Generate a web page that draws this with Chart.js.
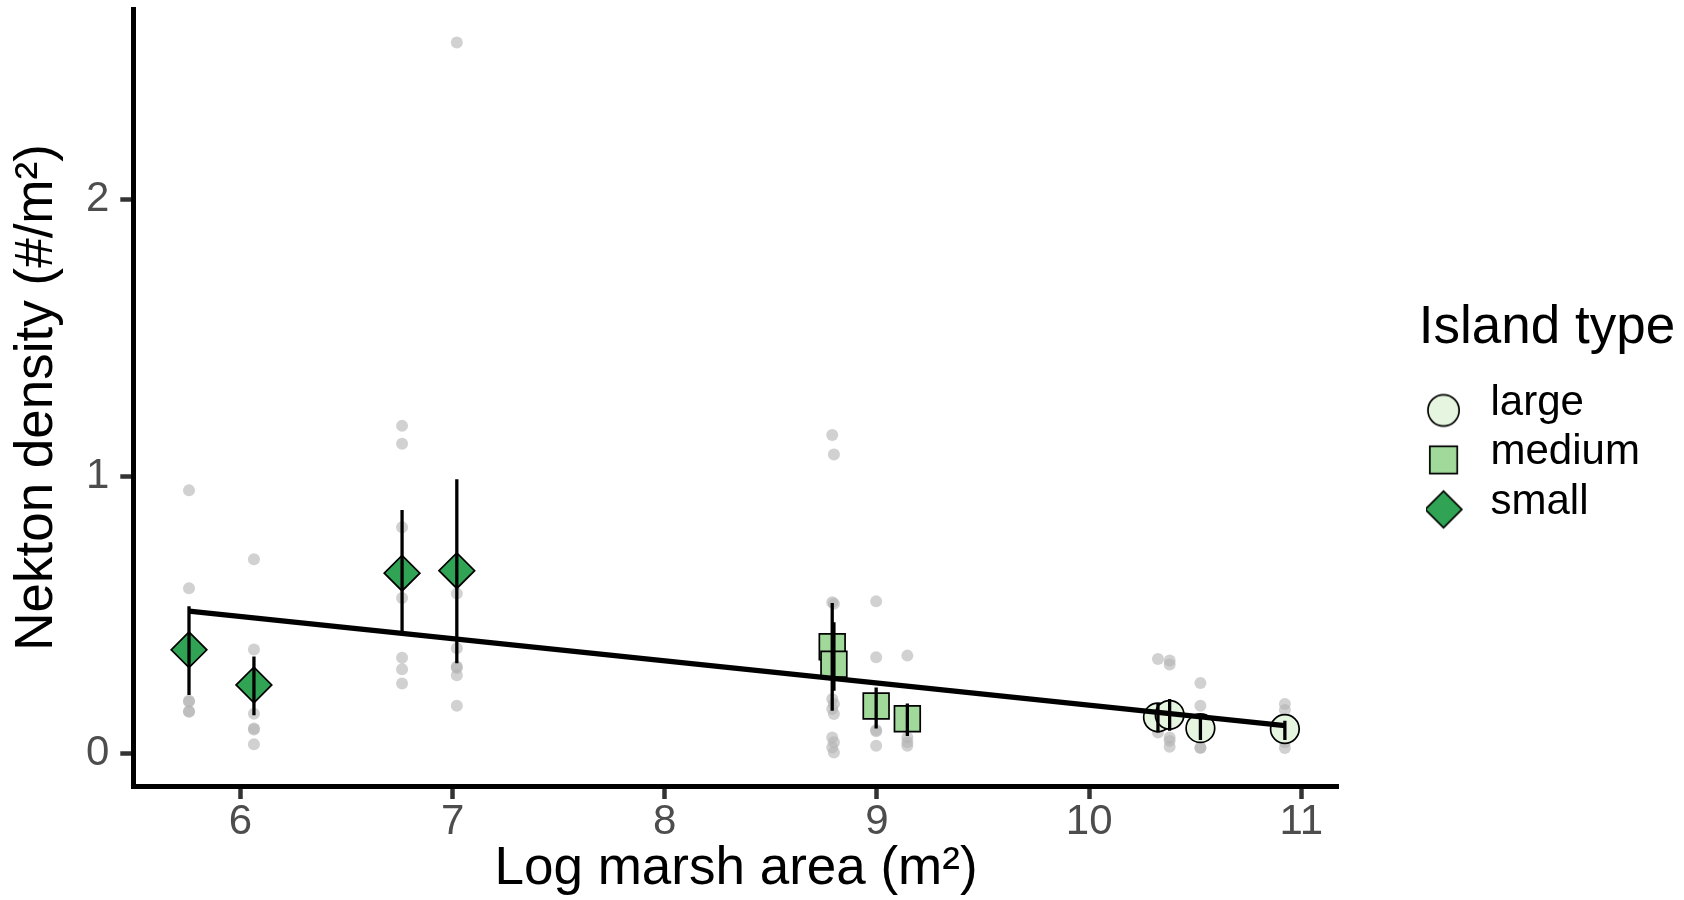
<!DOCTYPE html>
<html>
<head>
<meta charset="utf-8">
<title>Nekton density vs marsh area</title>
<script src="https://cdn.jsdelivr.net/npm/chart.js@4.4.1/dist/chart.umd.min.js"></script>
<style>
  html, body { margin: 0; padding: 0; background: #ffffff; }
  #wrap { width: 1684px; height: 900px; }
</style>
</head>
<body>
<div id="wrap"><canvas id="chart" width="1684" height="900"></canvas></div>
<script>
// One entry per island: type, log marsh area, mean density and its error bar
const islandType  = ['small', 'small', 'small', 'small', 'medium', 'medium', 'medium', 'medium', 'large', 'large', 'large', 'large'];
const logArea     = [5.758, 6.064, 6.762, 7.020, 8.789, 8.797, 8.996, 9.143, 10.324, 10.379, 10.524, 10.922];
const meanDensity = [0.374, 0.247, 0.651, 0.660, 0.385, 0.322, 0.171, 0.125, 0.130, 0.139, 0.091, 0.088];
const errLower    = [0.211, 0.138, 0.435, 0.325, 0.154, 0.226, 0.090, 0.063, 0.075, 0.082, 0.048, 0.048];
const errUpper    = [0.531, 0.350, 0.879, 0.990, 0.543, 0.474, 0.238, 0.180, 0.178, 0.196, 0.132, 0.118];

// Individual samples per island (same order as above)
const samples = [
  [0.950, 0.596, 0.190, 0.186, 0.152, 0.150],
  [0.701, 0.375, 0.143, 0.090, 0.086, 0.033],
  [1.183, 1.118, 0.817, 0.561, 0.345, 0.304, 0.252],
  [2.568, 0.577, 0.380, 0.314, 0.308, 0.282, 0.172],
  [1.150, 0.546, 0.196, 0.160, 0.057, 0.021],
  [1.080, 0.540, 0.178, 0.142, 0.040, 0.003],
  [0.549, 0.347, 0.084, 0.080, 0.027],
  [0.353, 0.057, 0.040, 0.027],
  [0.341, 0.120, 0.075],
  [0.335, 0.321, 0.057, 0.045, 0.024],
  [0.254, 0.172, 0.021, 0.019],
  [0.178, 0.157, 0.040, 0.019]
];

// Fitted regression line end points
const fitX = [5.758, 10.922];
const fitY = [0.514, 0.100];

// Axis ticks and legend order
const xTicks = [6, 7, 8, 9, 10, 11];
const yTicks = [0, 1, 2];
const typeOrder = ['large', 'medium', 'small'];

// ---- styling ----
const FONT = "'Liberation Sans', Arial, Helvetica, sans-serif";
const typeColor = { large: '#E5F5E0', medium: '#A1D99B', small: '#31A354' };
const markerStyle = {
  large:  { pointStyle: 'circle',  radius: 14.3 },
  medium: { pointStyle: 'rect',    radius: 18.2 },
  small:  { pointStyle: 'rectRot', radius: 17.8 }
};

Chart.defaults.font.family = FONT;

// raw samples as x/y points
const samplePoints = [];
samples.forEach((vals, i) => vals.forEach(v => samplePoints.push({ x: logArea[i], y: v })));

// vertical error bars, separated by gaps
const errorSegments = [];
logArea.forEach((x, i) => {
  errorSegments.push({ x: x, y: errLower[i] }, { x: x, y: errUpper[i] }, { x: x, y: null });
});

const fitPoints = fitX.map((x, i) => ({ x: x, y: fitY[i] }));

const meanSets = typeOrder.map(t => {
  const pts = [];
  islandType.forEach((type, i) => { if (type === t) pts.push({ x: logArea[i], y: meanDensity[i] }); });
  return {
    type: 'scatter',
    label: t,
    data: pts,
    pointStyle: markerStyle[t].pointStyle,
    pointRadius: markerStyle[t].radius,
    pointHoverRadius: markerStyle[t].radius,
    backgroundColor: typeColor[t],
    pointBackgroundColor: typeColor[t],
    borderColor: '#000000',
    pointBorderColor: '#000000',
    pointBorderWidth: 1.7,
    order: 2
  };
});

// legend symbols: small canvases; the symbol sits a little left of and below the box centre
function legendSymbol(t) {
  const c = document.createElement('canvas');
  c.width = 44; c.height = 58;
  const g = c.getContext('2d');
  const cx = 22 - 4.4, cy = 29 + 7;
  g.fillStyle = typeColor[t];
  g.strokeStyle = '#000000';
  g.lineWidth = 1.7;
  g.beginPath();
  if (t === 'large') {
    g.arc(cx, cy, 15.6, 0, Math.PI * 2);
  } else if (t === 'medium') {
    g.rect(cx - 13.7, cy - 13.7, 27.4, 27.4);
  } else {
    g.moveTo(cx - 18.3, cy); g.lineTo(cx, cy - 18.3); g.lineTo(cx + 18.3, cy); g.lineTo(cx, cy + 18.3);
    g.closePath();
  }
  g.fill();
  g.stroke();
  return c;
}
const legendSymbols = {};
typeOrder.forEach(t => { legendSymbols[t] = legendSymbol(t); });

// axes sit exactly on the plot panel; no extra room for overhanging tick labels
function noOverhang(s) {
  s.paddingTop = 0; s.paddingBottom = 0; s.paddingLeft = 0; s.paddingRight = 0;
}

// let the legend box reach the canvas edge so the wide title is not clipped
const legendRoom = {
  id: 'legendRoom',
  afterLayout(chart) {
    const l = chart.legend;
    if (l) { l.right = chart.width; l.width = l.right - l.left; }
  }
};

new Chart(document.getElementById('chart'), {
  type: 'scatter',
  plugins: [legendRoom],
  data: {
    datasets: [
      {
        type: 'line',
        label: 'error bars',
        data: errorSegments,
        borderColor: '#000000',
        borderWidth: 3.3,
        borderCapStyle: 'butt',
        pointRadius: 0,
        pointHoverRadius: 0,
        spanGaps: false,
        fill: false,
        order: 0
      },
      {
        type: 'line',
        label: 'fit',
        data: fitPoints,
        borderColor: '#000000',
        borderWidth: 5.3,
        borderCapStyle: 'butt',
        pointRadius: 0,
        pointHoverRadius: 0,
        fill: false,
        order: 1
      },
      ...meanSets,
      {
        type: 'scatter',
        label: 'samples',
        data: samplePoints,
        pointRadius: 6,
        pointHoverRadius: 6,
        backgroundColor: 'rgba(178,178,178,0.6)',
        pointBackgroundColor: 'rgba(178,178,178,0.6)',
        pointBorderWidth: 0,
        borderWidth: 0,
        order: 5
      }
    ]
  },
  options: {
    responsive: false,
    animation: false,
    events: [],
    devicePixelRatio: 1,
    layout: { autoPadding: false, padding: { top: 9, right: 34.1, bottom: 0, left: 0 } },
    plugins: {
      tooltip: { enabled: false },
      legend: {
        display: true,
        position: 'right',
        align: 'start',
        title: {
          display: true,
          text: 'Island type',
          color: '#000000',
          position: 'start',
          font: { family: FONT, size: 53, lineHeight: 1.2 },
          padding: { top: 292.5, bottom: 9.8 }
        },
        labels: {
          usePointStyle: true,
          pointStyleWidth: 43.25,
          padding: 7.5,
          color: '#000000',
          font: { family: FONT, size: 42 },
          generateLabels: () => typeOrder.map((t, k) => ({
            text: t,
            pointStyle: legendSymbols[t],
            fillStyle: typeColor[t],
            strokeStyle: '#000000',
            lineWidth: 0,
            hidden: false,
            datasetIndex: 2 + k
          }))
        }
      }
    },
    scales: {
      x: {
        type: 'linear',
        position: 'bottom',
        min: 5.4955,
        max: 11.176,
        afterBuildTicks: s => { s.ticks = xTicks.map(v => ({ value: v })); },
        afterFit: s => { s.height = 114; noOverhang(s); },
        grid: { display: true, drawOnChartArea: false, drawTicks: true, tickLength: 13, tickWidth: 4.5, tickColor: '#333333' },
        border: { display: true, color: '#000000', width: 5 },
        ticks: {
          color: '#4D4D4D',
          padding: 2.5,
          maxRotation: 0,
          autoSkip: false,
          font: { family: FONT, size: 42, lineHeight: 1 },
          callback: v => String(v)
        },
        title: {
          display: true,
          text: 'Log marsh area (m²)',
          color: '#000000',
          font: { family: FONT, size: 53, lineHeight: 1 },
          padding: { top: 0, bottom: 4 }
        }
      },
      y: {
        type: 'linear',
        position: 'left',
        min: -0.118,
        max: 2.689,
        afterBuildTicks: s => { s.ticks = yTicks.map(v => ({ value: v })); },
        afterFit: s => { s.width = 133.3; noOverhang(s); },
        grid: { display: true, drawOnChartArea: false, drawTicks: true, tickLength: 13, tickWidth: 4.5, tickColor: '#333333' },
        border: { display: true, color: '#000000', width: 5 },
        ticks: {
          color: '#4D4D4D',
          padding: 11,
          font: { family: FONT, size: 42, lineHeight: 1 },
          callback: v => String(v)
        },
        title: {
          display: true,
          text: 'Nekton density (#/m²)',
          color: '#000000',
          font: { family: FONT, size: 53, lineHeight: 1 },
          padding: { top: 11, bottom: 0 }
        }
      },
      gap: {
        type: 'linear',
        position: 'right',
        display: true,
        grid: { display: false, drawTicks: false },
        border: { display: false },
        ticks: { display: false },
        afterFit: s => { s.width = 80; noOverhang(s); }
      }
    }
  }
});
</script>
</body>
</html>
